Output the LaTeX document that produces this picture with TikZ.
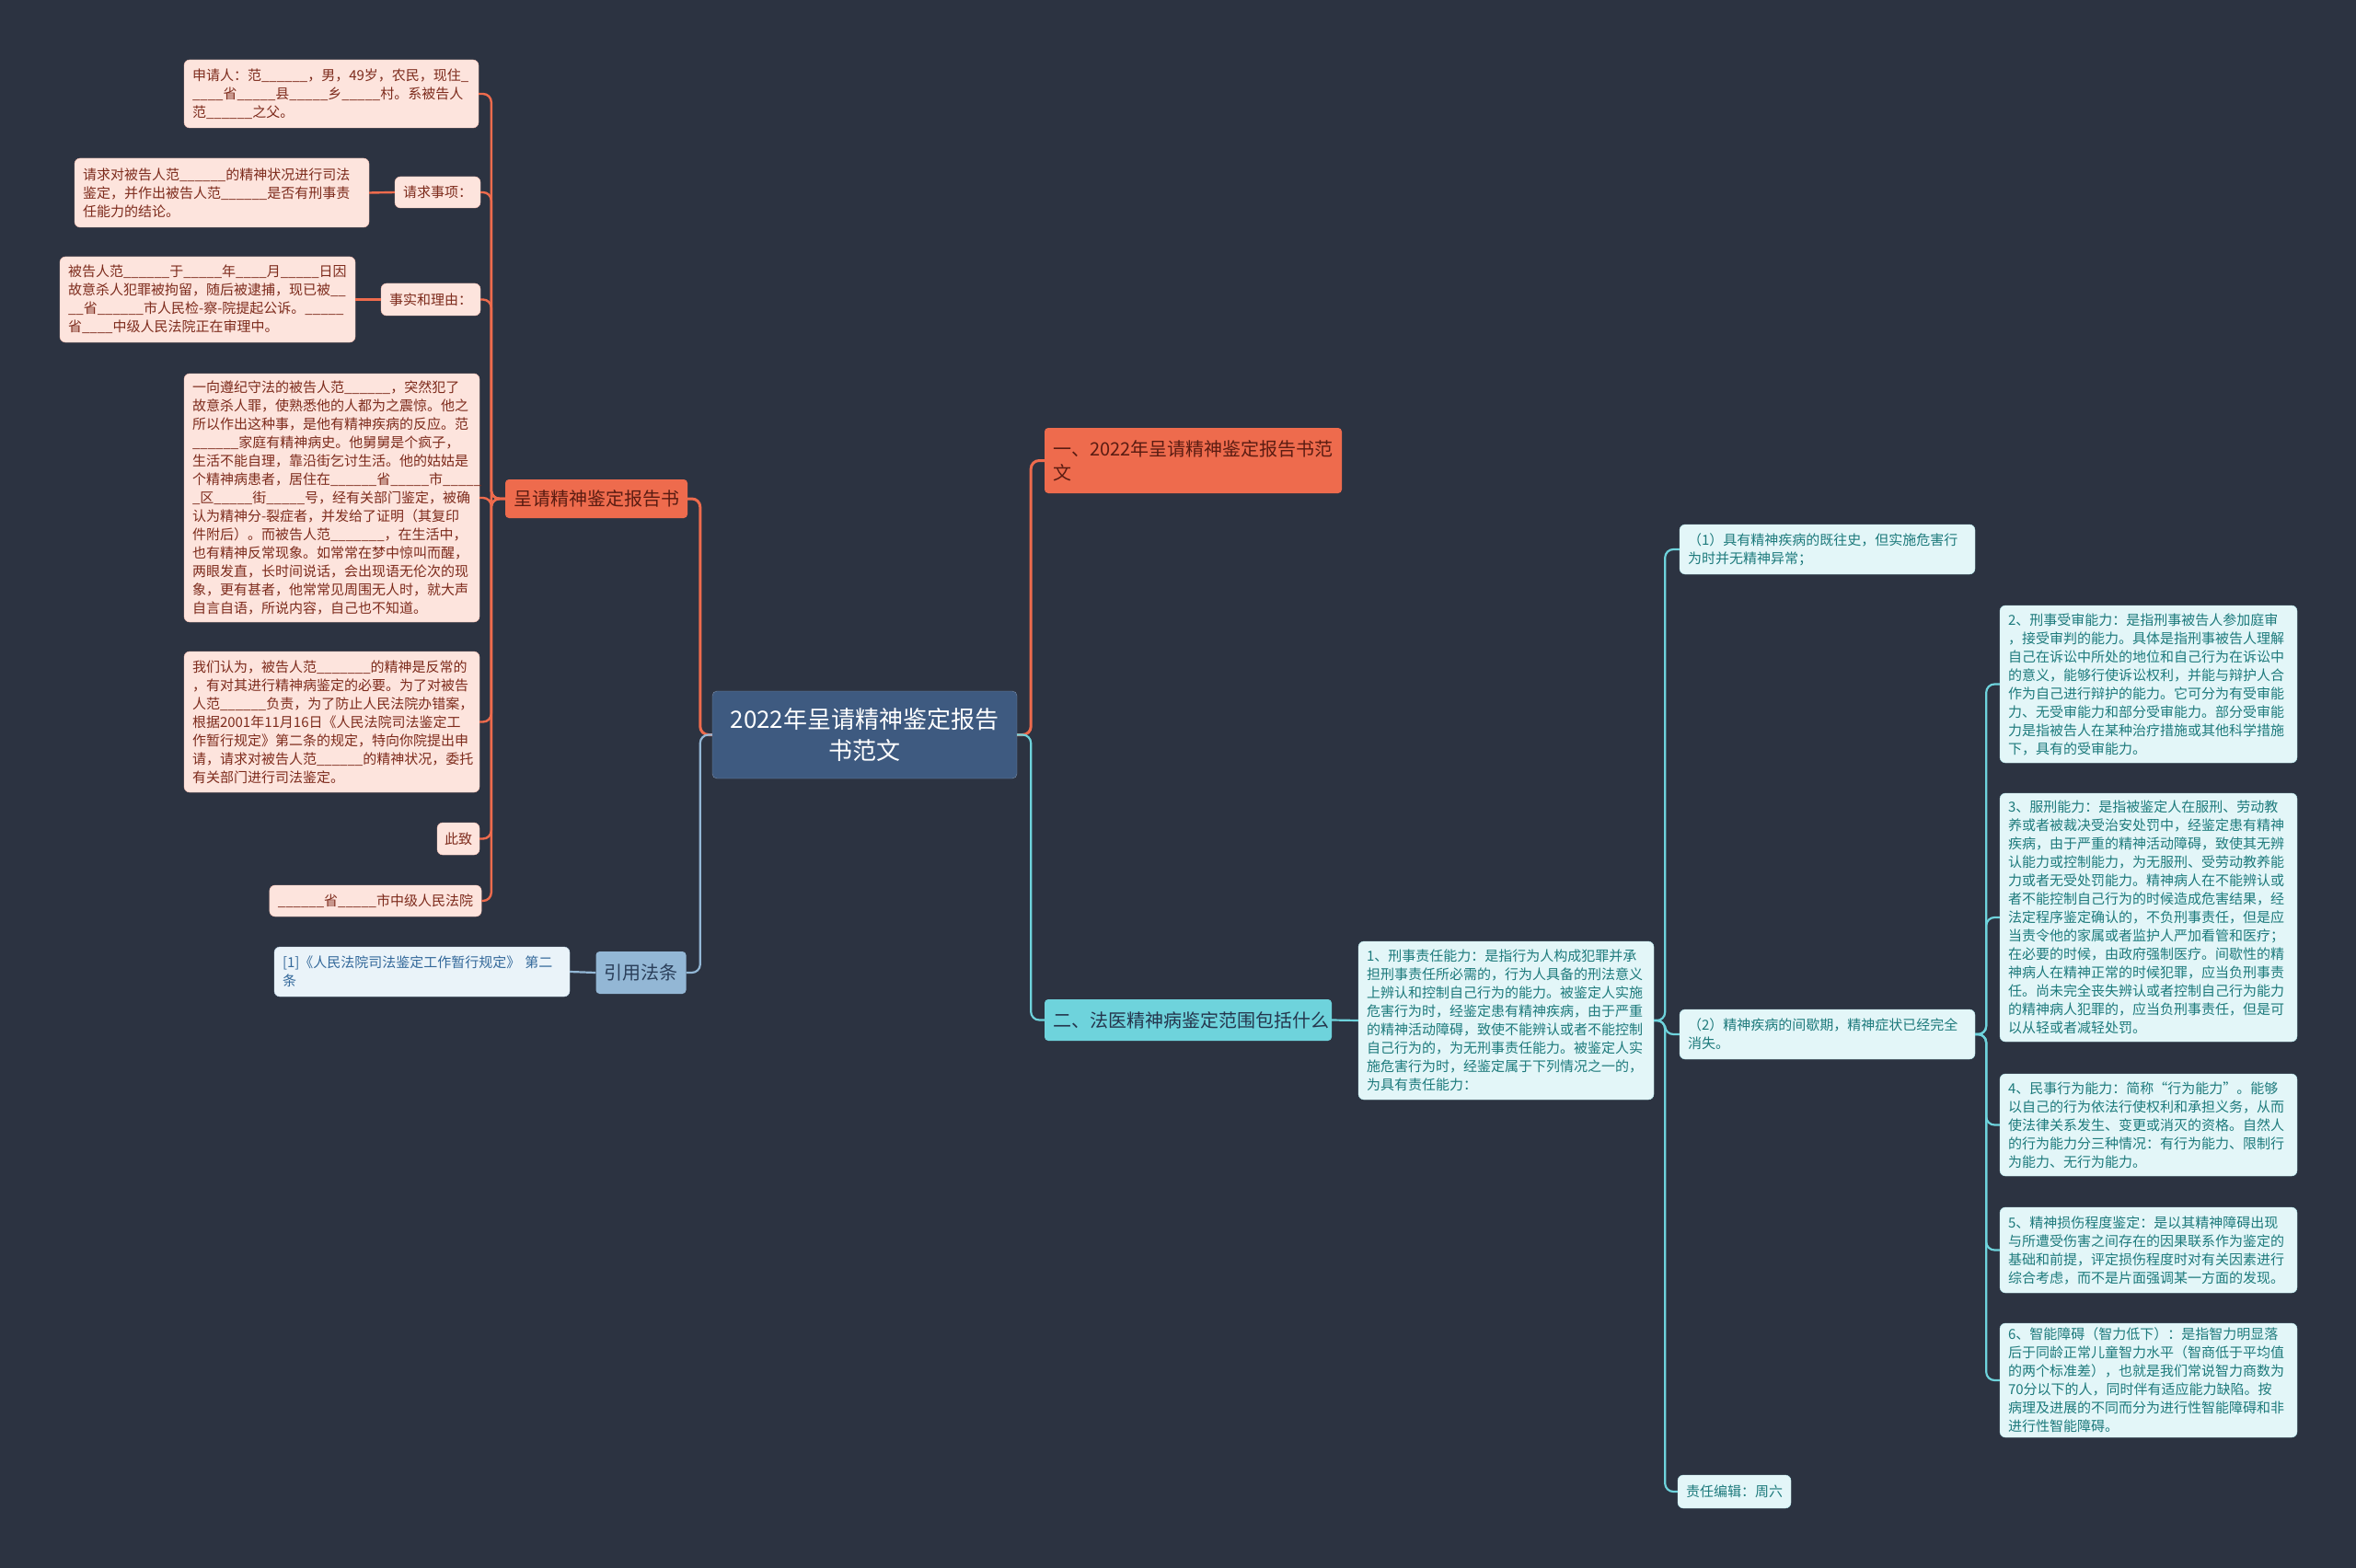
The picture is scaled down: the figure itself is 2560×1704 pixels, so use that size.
\documentclass[tikz,border=0pt]{standalone}
\usepackage{fontspec}
\setmainfont{Noto Sans CJK SC}
\usepackage{tikz}
\usetikzlibrary{positioning}
\definecolor{Bg}{HTML}{2C3341}
\definecolor{Steel}{HTML}{3E5A80}
\definecolor{Coral}{HTML}{EE6B4D}
\definecolor{Blush}{HTML}{FDE4DD}
\definecolor{Rust}{HTML}{7D2B1C}
\definecolor{Cocoa}{HTML}{5A1C12}
\definecolor{Aqua}{HTML}{6ED3DC}
\definecolor{Mist}{HTML}{E3F6F8}
\definecolor{Pine}{HTML}{1D7A7C}
\definecolor{Sky}{HTML}{93B7D5}
\definecolor{Frost}{HTML}{EAF3F9}
\definecolor{Ocean}{HTML}{33689A}
\tikzset{
  card/.style={rounded corners=6pt, inner xsep=9pt, inner ysep=0pt, align=left,
    font=\fontsize{15}{20}\selectfont, minimum height=#1},
  pinkcard/.style={card=#1, draw=Coral!30!Blush, fill=Blush, text=Rust},
  aquacard/.style={card=#1, draw=Aqua!40!Mist, fill=Mist, text=Pine},
  skycard/.style={card=#1, draw=Sky!50!Frost, fill=Frost, text=Ocean},
  topic/.style={rounded corners=4pt, inner xsep=9pt, inner ysep=0pt, align=left,
    font=\fontsize{20}{26}\selectfont, minimum height=#1},
}

\begin{document}
\begin{tikzpicture}[x=1pt, y=-1pt,
  coralln/.style={draw=Coral, line width=3pt, rounded corners=9pt},
  aqualn/.style={draw=Aqua, line width=2.2pt, rounded corners=9pt},
  skyln/.style={draw=Sky, line width=2.2pt, rounded corners=9pt},
]
  \fill[Bg] (0,0) rectangle (2560,1704);
  \useasboundingbox (0,0) rectangle (2560,1704);

  % centre
  \node[rounded corners=5pt, fill=Steel, draw=Steel!70!white, text=white, align=center,
    minimum width=331pt, minimum height=95pt, font=\fontsize{26}{34}\selectfont]
    (root) at (939.5,798.5) {2022年呈请精神鉴定报告\\书范文};

  % main branches
  \node[topic=71pt, fill=Coral, text=Cocoa, text width=305pt] (one) at (1296.5,500.5)
    {一、2022年呈请精神鉴定报告书范\\文};
  \node[topic=45pt, fill=Aqua, text=Steel!60!black, text width=294pt] (two) at (1291,1108.5)
    {二、法医精神病鉴定范围包括什么};
  \node[topic=42pt, fill=Coral, text=Cocoa, minimum width=196pt, align=center] (bg) at (648,542)
    {呈请精神鉴定报告书};
  \node[topic=46pt, fill=Sky, text=Steel!70!black, minimum width=97pt, align=center] (law) at (696.5,1057)
    {引用法条};

  % left leaves
  \node[pinkcard=74pt, text width=302pt] (appl) at (360,102)
    {申请人：范\_\_\_\_\_\_，男，49岁，农民，现住\_\\
     \_\_\_\_省\_\_\_\_\_县\_\_\_\_\_乡\_\_\_\_\_村。系被告人\\
     范\_\_\_\_\_\_之父。};
  \node[pinkcard=34pt] (ask) at (475.5,209) {请求事项：};
  \node[pinkcard=75pt, text width=302pt] (askt) at (241,209.5)
    {请求对被告人范\_\_\_\_\_\_的精神状况进行司法\\
     鉴定，并作出被告人范\_\_\_\_\_\_是否有刑事责\\
     任能力的结论。};
  \node[pinkcard=35pt] (fact) at (468,325.5) {事实和理由：};
  \node[pinkcard=93pt, text width=303pt] (factt) at (225.5,325.5)
    {被告人范\_\_\_\_\_\_于\_\_\_\_\_年\_\_\_\_月\_\_\_\_\_日因\\
     故意杀人犯罪被拘留，随后被逮捕，现已被\_\_\\
     \_\_省\_\_\_\_\_\_市人民检-察-院提起公诉。\_\_\_\_\_\\
     省\_\_\_\_中级人民法院正在审理中。};
  \node[pinkcard=270pt, text width=303pt] (story) at (360.5,541)
    {一向遵纪守法的被告人范\_\_\_\_\_\_，突然犯了\\
     故意杀人罪，使熟悉他的人都为之震惊。他之\\
     所以作出这种事，是他有精神疾病的反应。范\\
     \_\_\_\_\_\_家庭有精神病史。他舅舅是个疯子，\\
     生活不能自理，靠沿街乞讨生活。他的姑姑是\\
     个精神病患者，居住在\_\_\_\_\_\_省\_\_\_\_\_市\_\_\_\_\_\\
     \_区\_\_\_\_\_街\_\_\_\_\_号，经有关部门鉴定，被确\\
     认为精神分-裂症者，并发给了证明（其复印\\
     件附后）。而被告人范\_\_\_\_\_\_\_，在生活中，\\
     也有精神反常现象。如常常在梦中惊叫而醒，\\
     两眼发直，长时间说话，会出现语无伦次的现\\
     象，更有甚者，他常常见周围无人时，就大声\\
     自言自语，所说内容，自己也不知道。};
  \node[pinkcard=153pt, text width=303pt] (plea) at (360.5,784.5)
    {我们认为，被告人范\_\_\_\_\_\_\_的精神是反常的\\
     ，有对其进行精神病鉴定的必要。为了对被告\\
     人范\_\_\_\_\_\_负责，为了防止人民法院办错案，\\
     根据2001年11月16日《人民法院司法鉴定工\\
     作暂行规定》第二条的规定，特向你院提出申\\
     请，请求对被告人范\_\_\_\_\_\_的精神状况，委托\\
     有关部门进行司法鉴定。};
  \node[pinkcard=35pt, inner xsep=8pt] (close) at (498,911.5) {此致};
  \node[pinkcard=34pt] (court) at (408,979)
    {\_\_\_\_\_\_省\_\_\_\_\_市中级人民法院};
  \node[skycard=54pt, text width=303pt] (ref) at (458.5,1056)
    {[1]《人民法院司法鉴定工作暂行规定》 第二\\条};

  % right leaves
  \node[aquacard=172pt, text width=303pt] (crim) at (1636.5,1109)
    {1、刑事责任能力：是指行为人构成犯罪并承\\
     担刑事责任所必需的，行为人具备的刑法意义\\
     上辨认和控制自己行为的能力。被鉴定人实施\\
     危害行为时，经鉴定患有精神疾病，由于严重\\
     的精神活动障碍，致使不能辨认或者不能控制\\
     自己行为的，为无刑事责任能力。被鉴定人实\\
     施危害行为时，经鉴定属于下列情况之一的，\\
     为具有责任能力：};
  \node[aquacard=54pt, text width=303pt] (caseA) at (1985.5,597)
    {（1）具有精神疾病的既往史，但实施危害行\\为时并无精神异常；};
  \node[aquacard=54pt, text width=303pt] (caseB) at (1985.5,1124)
    {（2）精神疾病的间歇期，精神症状已经完全\\消失。};
  \node[aquacard=36pt] (editor) at (1884.5,1621) {责任编辑：周六};
  \node[aquacard=171pt, text width=305pt] (trial) at (2334.5,743.5)
    {2、刑事受审能力：是指刑事被告人参加庭审\\
     ，接受审判的能力。具体是指刑事被告人理解\\
     自己在诉讼中所处的地位和自己行为在诉讼中\\
     的意义，能够行使诉讼权利，并能与辩护人合\\
     作为自己进行辩护的能力。它可分为有受审能\\
     力、无受审能力和部分受审能力。部分受审能\\
     力是指被告人在某种治疗措施或其他科学措施\\
     下，具有的受审能力。};
  \node[aquacard=270pt, text width=305pt] (serve) at (2334.5,997)
    {3、服刑能力：是指被鉴定人在服刑、劳动教\\
     养或者被裁决受治安处罚中，经鉴定患有精神\\
     疾病，由于严重的精神活动障碍，致使其无辨\\
     认能力或控制能力，为无服刑、受劳动教养能\\
     力或者无受处罚能力。精神病人在不能辨认或\\
     者不能控制自己行为的时候造成危害结果，经\\
     法定程序鉴定确认的，不负刑事责任，但是应\\
     当责令他的家属或者监护人严加看管和医疗；\\
     在必要的时候，由政府强制医疗。间歇性的精\\
     神病人在精神正常的时候犯罪，应当负刑事责\\
     任。尚未完全丧失辨认或者控制自己行为能力\\
     的精神病人犯罪的，应当负刑事责任，但是可\\
     以从轻或者减轻处罚。};
  \node[aquacard=111pt, text width=305pt] (civil) at (2334.5,1222.5)
    {4、民事行为能力：简称“行为能力”。能够\\
     以自己的行为依法行使权利和承担义务，从而\\
     使法律关系发生、变更或消灭的资格。自然人\\
     的行为能力分三种情况：有行为能力、限制行\\
     为能力、无行为能力。};
  \node[aquacard=93pt, text width=305pt] (harm) at (2334.5,1358.5)
    {5、精神损伤程度鉴定：是以其精神障碍出现\\
     与所遭受伤害之间存在的因果联系作为鉴定的\\
     基础和前提，评定损伤程度时对有关因素进行\\
     综合考虑，而不是片面强调某一方面的发现。};
  \node[aquacard=124pt, text width=305pt] (iq) at (2334.5,1500)
    {6、智能障碍（智力低下）：是指智力明显落\\
     后于同龄正常儿童智力水平（智商低于平均值\\
     的两个标准差），也就是我们常说智力商数为\\
     70分以下的人，同时伴有适应能力缺陷。按\\
     病理及进展的不同而分为进行性智能障碍和非\\
     进行性智能障碍。};

  % connectors
  \draw[coralln] (root.west) -- ++(-13,0) |- (bg.east);
  \draw[skyln] (root.west) -- ++(-13,0) |- (law.east);
  \draw[coralln] (root.east) -- ++(15,0) |- (one.west);
  \draw[aqualn] (root.east) -- ++(15,0) |- (two.west);
  \foreach \leaf in {appl,ask,fact,story,plea,close,court}
    \draw[coralln, line width=2.4pt] (bg.west) -- ++(-15,0) |- (\leaf.east);
  \draw[coralln, line width=2.4pt] (ask.west) -- (askt.east);
  \draw[coralln, line width=2.4pt] (fact.west) -- (factt.east);
  \draw[skyln] (law.west) -- (ref.east);
  \draw[aqualn] (two.east) -- (crim.west);
  \foreach \leaf in {caseA,caseB,editor}
    \draw[aqualn] (crim.east) -- ++(12,0) |- (\leaf.west);
  \foreach \leaf in {trial,serve,civil,harm,iq}
    \draw[aqualn] (caseB.east) -- ++(12,0) |- (\leaf.west);
\end{tikzpicture}
\end{document}
